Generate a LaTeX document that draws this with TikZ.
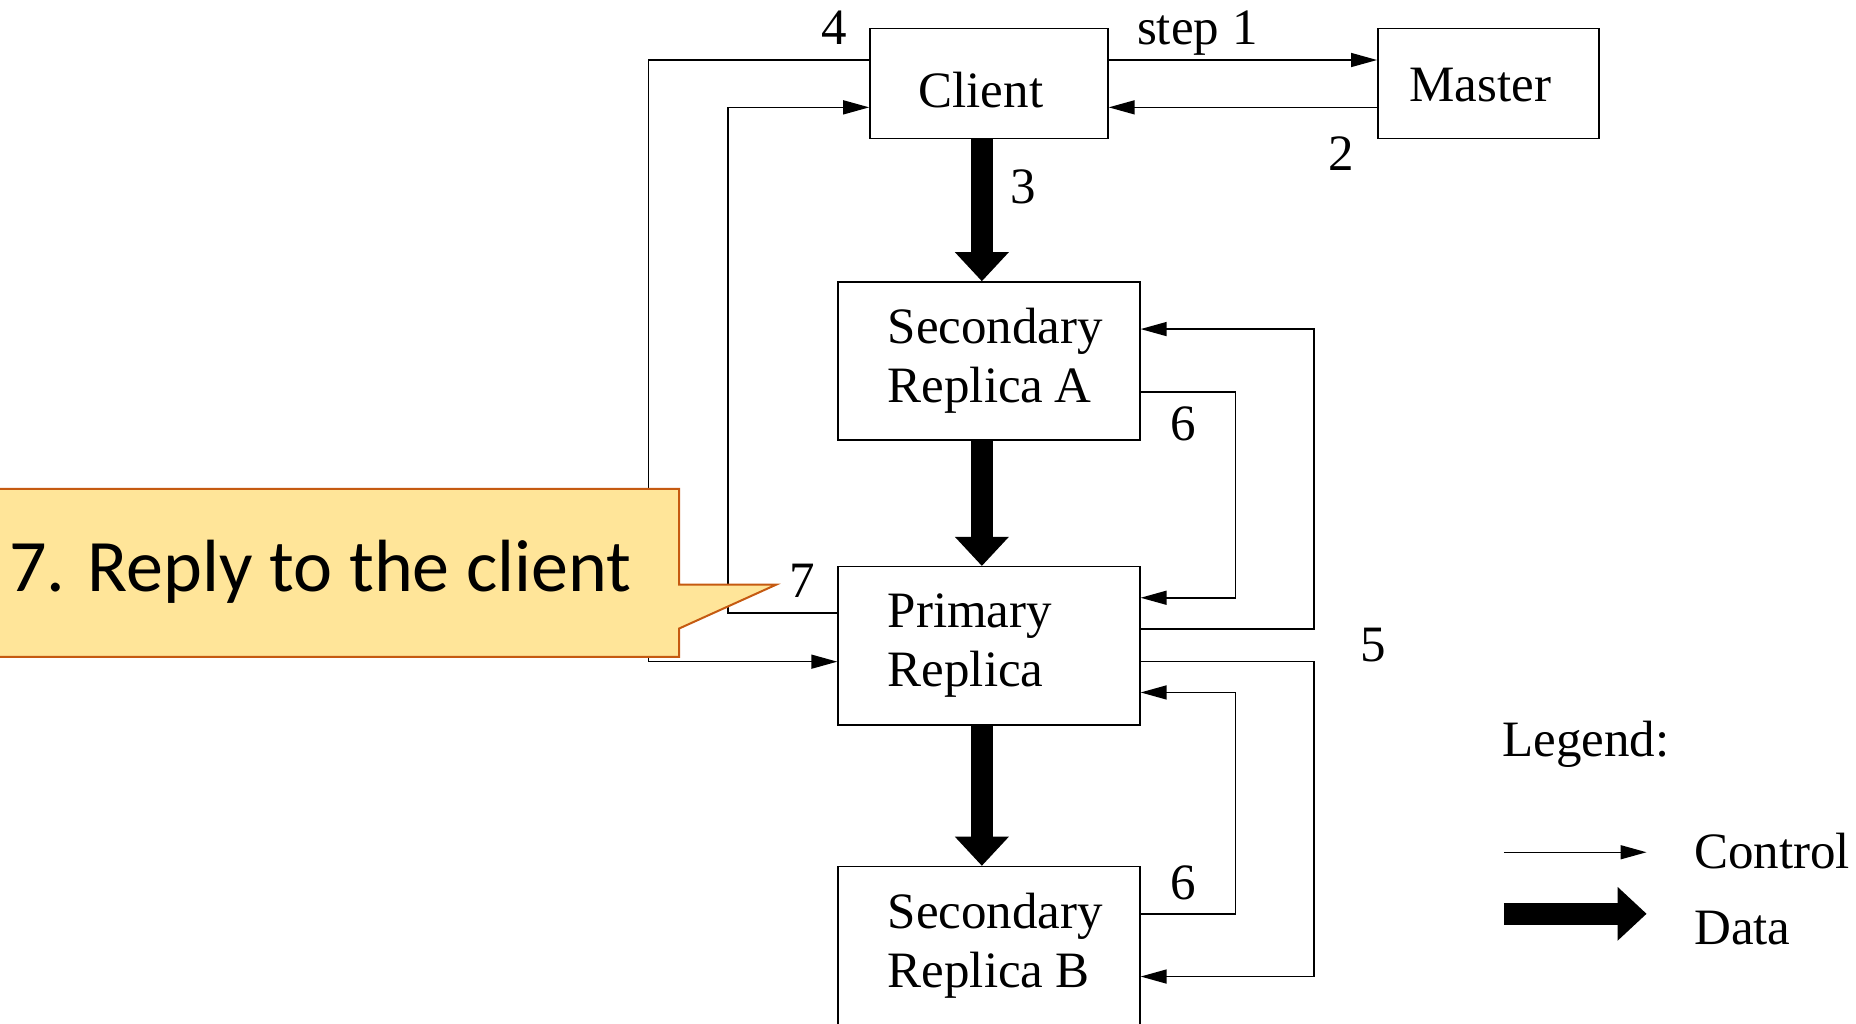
\documentclass[tikz,border=0pt]{standalone}
\usepackage{fontspec}
\setmainfont{Liberation Serif}
\newfontfamily\calloutfont{Carlito}
\usetikzlibrary{arrows.meta}
\hfuzz=20pt
\definecolor{calloutfill}{HTML}{FFE599}
\definecolor{calloutedge}{HTML}{C55A11}
\begin{document}
\begin{tikzpicture}[x=0.59185pt, y=-0.59185pt,
  every node/.style={font=\fontsize{25.5}{29.5}\selectfont},
  stagebox/.style={draw=black, line width=0.75pt, align=left, inner ysep=0pt},
  replicabox/.style={stagebox, minimum width=150.92pt, minimum height=79.1pt,
                     inner xsep=24.8pt, text width=101.3pt},
  ctl/.style={draw=black, line width=0.75pt, -{Triangle[length=13pt,width=7pt]}},
  datalink/.style={draw=black, line width=10.8pt,
                   -{Triangle[length=14.5pt,width=27pt,line width=0pt]}},
  numlabel/.style={anchor=base, inner sep=0pt},
  callout/.style={draw=calloutedge, fill=calloutfill, line width=1pt, line join=miter}
]
\path[use as bounding box, clip] (0,0) rectangle (1568,865);

% boxes
\node[stagebox, minimum width=118.96pt, minimum height=55.04pt, inner xsep=24.3pt,
      text width=70.4pt, text height=23.8pt, text depth=0pt] (client) at (835.5,70.5) {Client};
\node[stagebox, minimum width=110.68pt, minimum height=55.04pt, inner xsep=15.9pt,
      text width=78.9pt, text height=18.4pt, text depth=0pt] (master) at (1257.5,70.5) {Master};
\node[replicabox] (secA) at (835.5,305) {Secondary\\\mbox{Replica\hspace{0.22em}A}};
\node[replicabox] (primary) at (835.5,545.5) {Primary\\Replica};
\node[replicabox, minimum height=79.3pt] (secB) at (835.5,799) {Secondary\\\mbox{Replica\hspace{0.24em}B}};

% data flow
\coordinate (dx) at (829.5,0);
\draw[datalink] (client.south -| dx) -- (secA.north -| dx);
\draw[datalink] (secA.south -| dx) -- (primary.north -| dx);
\draw[datalink] (primary.south -| dx) -- (secB.north -| dx);

% control flow
\draw[ctl] (client.east |- 0,50.7) -- (master.west |- 0,50.7);
\draw[ctl] (master.west |- 0,90.7) -- (client.east |- 0,90.7);
\draw[ctl] (client.west |- 0,50.7) -| (548,559) -- (primary.west |- 0,559);
\draw[ctl] (primary.west |- 0,518) -| (615,90.7) -- (client.west |- 0,90.7);
\draw[ctl] (secA.east |- 0,331) -| (1043.6,505) -- (primary.east |- 0,505);
\draw[ctl] (primary.east |- 0,531.6) -| (1110,278) -- (secA.east |- 0,278);
\draw[ctl] (primary.east |- 0,559) -| (1110,825) -- (secB.east |- 0,825);
\draw[ctl] (secB.east |- 0,772) -| (1043.6,585) -- (primary.east |- 0,585);

% step numbers
\node[numlabel] (n4) at (705,38) {4};
\node[numlabel] (nstep) at (1011.5,38) {step 1};
\node[numlabel] (n2) at (1133,144) {2};
\node[numlabel] (n3) at (864.5,172) {3};
\node[numlabel] (n6a) at (999.5,372) {6};
\node[numlabel] (n5) at (1160.5,559) {5};
\node[numlabel] (n6b) at (999.5,760) {6};
\node[numlabel] (n7) at (677.5,505) {7};

% legend
\node[anchor=base west, inner sep=0pt] (legend) at (1269,639) {Legend:};
\coordinate (ctlL) at (1270.6,720);
\coordinate (ctlR) at (1391,720);
\draw[ctl] (ctlL) -- (ctlR);
\coordinate (dataL) at (1270.6,772);
\coordinate (dataR) at (1391,772);
\draw[datalink] (dataL) -- (dataR);
\node[anchor=base west, inner sep=0pt] (lctl) at (1431,733.5) {Control};
\node[anchor=base west, inner sep=0pt] (ldata) at (1431,798) {Data};

% callout
\draw[callout] (-20,413) -- (573.7,413) -- (573.7,494) -- (655.6,494)
  -- (573.7,531) -- (573.7,555) -- (-20,555) -- cycle;
\node[anchor=base west, inner sep=0pt, font=\calloutfont\fontsize{37}{41}\selectfont]
  (reply) at (7.5,500) {7. Reply to the client};
\end{tikzpicture}
\end{document}
